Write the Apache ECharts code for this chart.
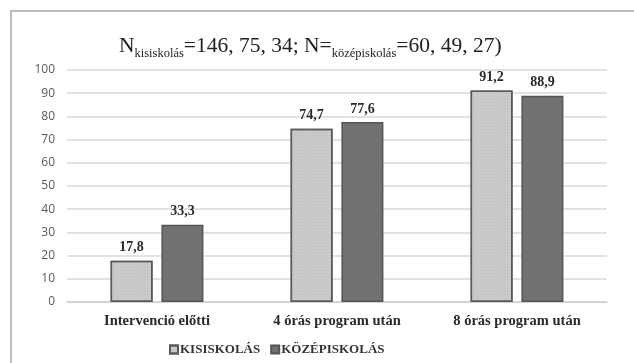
<!DOCTYPE html>
<html>
<head>
<meta charset="utf-8">
<script src="https://cdn.jsdelivr.net/npm/echarts@6/dist/echarts.min.js"></script>
<style>
  html, body { margin: 0; padding: 0; background: #fff; }
  #chart { width: 634px; height: 363px; }
</style>
</head>
<body>
<div id="chart"></div>
<script>
// Category groups and percentage values per school level
const categories = ['Intervenció előtti', '4 órás program után', '8 órás program után'];
const kisiskolas = [17.8, 74.7, 91.2];
const kozepiskolas = [33.3, 77.6, 88.9];
const seriesNames = ['KISISKOLÁS', 'KÖZÉPISKOLÁS'];

const serif = '"Liberation Serif", "Times New Roman", serif';
const sans = '"Open Sans", "Liberation Sans", sans-serif';

const chart = echarts.init(document.getElementById('chart'));

const valueLabel = {
  show: true,
  position: 'top',
  distance: 6,
  fontFamily: serif,
  fontWeight: 'bold',
  fontSize: 14,
  color: '#2a2a2a',
  formatter: p => String(p.value).replace('.', ',')
};

chart.setOption({
  animation: false,
  backgroundColor: '#fff',
  graphic: [{
    type: 'rect',
    shape: { x: 11, y: 11, width: 640, height: 400 },
    style: { fill: 'none', stroke: '#bdbdbd', lineWidth: 2 },
    silent: true
  }],
  title: {
    text: '{n|N}{s|kisiskolás}{n|=146, 75, 34; N=}{s|középiskolás}{n|=60, 49, 27)}',
    left: 114,
    top: 28,
    textStyle: {
      rich: {
        n: { fontFamily: serif, fontWeight: 'normal', fontSize: 21.5, color: '#222', verticalAlign: 'bottom', lineHeight: 24 },
        s: { fontFamily: serif, fontWeight: 'normal', fontSize: 12.5, color: '#222', verticalAlign: 'bottom', lineHeight: 24, padding: [0, 0, -3, 0] }
      }
    }
  },
  legend: {
    data: seriesNames,
    left: 164,
    top: 338,
    itemWidth: 8,
    itemHeight: 8,
    itemGap: 10,
    icon: 'rect',
    textStyle: { fontFamily: serif, fontWeight: 'bold', fontSize: 13, color: '#333', padding: [0, 0, 0, -3] }
  },
  grid: { left: 67, right: 27, top: 70, bottom: 61 },
  xAxis: {
    type: 'category',
    data: categories,
    axisLine: { lineStyle: { color: '#cfcfcf', width: 1.5 } },
    axisTick: { show: false },
    axisLabel: { fontFamily: serif, fontWeight: 'bold', fontSize: 14.5, color: '#2a2a2a', margin: 12 }
  },
  yAxis: {
    type: 'value',
    min: 0,
    max: 100,
    interval: 10,
    axisLine: { show: false },
    axisTick: { show: false },
    axisLabel: { fontFamily: sans, fontSize: 12, color: '#595959', margin: 12 },
    splitLine: { lineStyle: { color: '#d9d9d9', width: 1.5 } }
  },
  series: [
    {
      name: seriesNames[0],
      type: 'bar',
      data: kisiskolas,
      barWidth: 42,
      barGap: '21%',
      itemStyle: {
        color: '#cacaca',
        borderColor: '#5a5a5a',
        borderWidth: 1.5,
        decal: { symbol: 'rect', symbolSize: 0.6, dashArrayX: [1, 2], dashArrayY: [1, 2], color: 'rgba(110,110,110,0.45)' }
      },
      label: valueLabel
    },
    {
      name: seriesNames[1],
      type: 'bar',
      data: kozepiskolas,
      barWidth: 42,
      itemStyle: { color: '#717171', borderColor: '#545454', borderWidth: 1.5 },
      label: valueLabel
    }
  ]
});
</script>
</body>
</html>
